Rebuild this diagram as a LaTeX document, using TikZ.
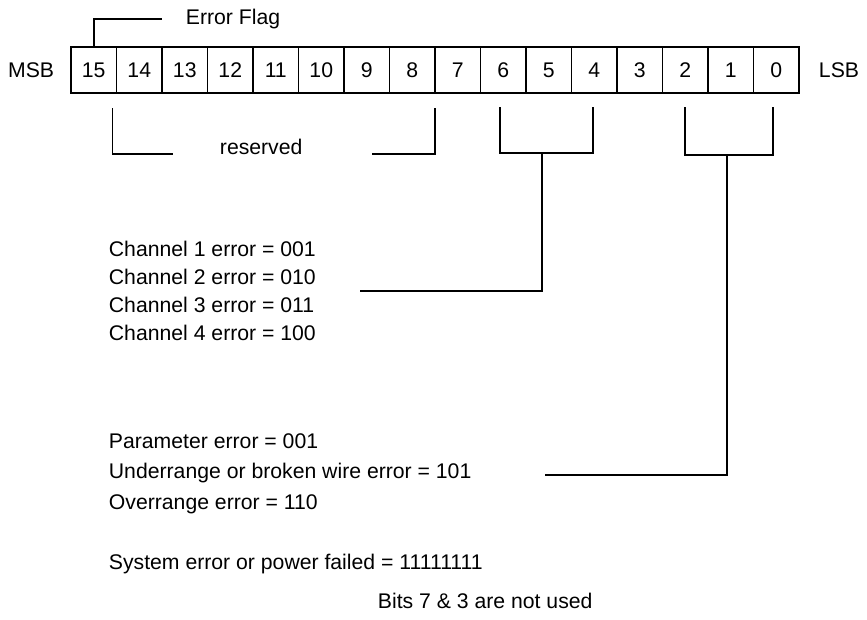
\documentclass[tikz,border=0pt]{standalone}
\usepackage{fontspec}
\setmainfont{Liberation Sans}
\usetikzlibrary{positioning, calc}

\begin{document}
\begin{tikzpicture}[
  x=0.03cm, y=-0.03cm,
  font=\fontsize{18.1}{23.9}\selectfont,
  every path/.style={line width=1.6pt},
  node distance=0pt,
  bitcell/.style={rectangle, draw=black, minimum width=1.365cm,
                  minimum height=1.38cm, inner sep=0pt, outer sep=0pt},
  lbl/.style={inner sep=0pt},
  txt/.style={lbl, anchor=west, align=left},
]
\useasboundingbox (0,0) rectangle (867,620);

% register, MSB .. LSB
\node[bitcell] (b15) at (93.75,70) {15};
\foreach \b [evaluate=\b as \p using int(\b+1)] in {14,...,0}
  \node[bitcell, right=of b\p] (b\b) {\b};

\node[lbl, left=0.48cm of b15] (msb) {MSB};
\node[lbl, right=0.57cm of b0]  (lsb) {LSB};

\node[txt] (eflag) at (185,19)  {Error Flag};
\node[txt] (resv)  at (219,147) {reserved};

\node[txt] (chan) at (108,291) {Channel 1 error = 001\\
                                Channel 2 error = 010\\
                                Channel 3 error = 011\\
                                Channel 4 error = 100};
\node[txt, font=\fontsize{18.1}{26}\selectfont] (param) at (108,473.5)
                               {Parameter error = 001\\
                                Underrange or broken wire error = 101\\
                                Overrange error = 110};
\node[txt] (syserr) at (108,564) {System error or power failed = 11111111};
\node[txt] (unused) at (377,601) {Bits 7 \& 3 are not used};

% bit 15
\draw (b15.north) |- ($(eflag.west)+(-23,0)$);

% bits 14..8
\draw ($(b14.south west)+(-4,15)$) |- ($(resv.west)+(-46,7)$);
\draw ($(resv.east)+(69,7)$) -| ($(b7.south west)+(0,15)$);

% bits 6..4
\draw ($(b6.south)+(-3,14)$) |- ($(b4.south)+(-1,60)$) -- ($(b4.south)+(-1,14)$);
\draw ($(b5.south)+(-7,60)$) |- ($(chan.east)+(43,0)$);

% bits 2..0
\draw ($(b2.south)+(0,14)$) |- ($(b0.south)+(-3,62)$) -- ($(b0.south)+(-3,14)$);
\draw ($(b1.south)+(-4,62)$) |- ($(param.east)+(73,1.5)$);

\end{tikzpicture}
\end{document}
